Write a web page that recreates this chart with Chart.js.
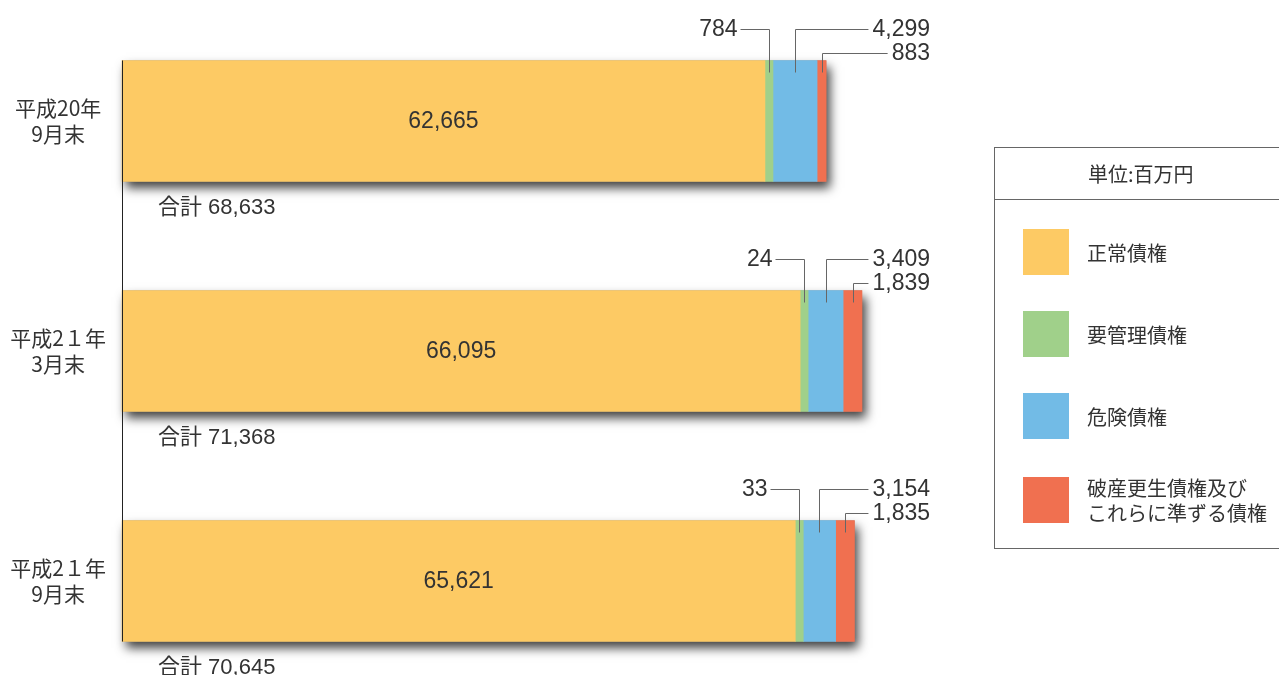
<!DOCTYPE html>
<html>
<head>
<meta charset="utf-8">
<script src="https://cdn.jsdelivr.net/npm/chart.js@4"></script>
<style>
  body { margin: 0; background: #fff; }
  #wrap { position: relative; width: 1279px; height: 675px; overflow: hidden; }
  #legendBox {
    position: absolute; left: 994px; top: 147px; width: 310px; height: 402px;
    border: 1px solid #666; box-sizing: border-box;
    font-family: 'Noto Sans CJK JP', sans-serif; color: #333;
  }
  #legendBox .title { height: 51px; line-height: 52px; border-bottom: 1px solid #666; font-size: 20px; padding-left: 93px; }
  #legendBox .item { position: absolute; left: 28px; display: flex; align-items: center; }
  #legendBox .sw { width: 46px; height: 46px; margin-right: 18px; flex: none; }
  #legendBox .txt { font-size: 20px; line-height: 25px; white-space: pre; }
</style>
</head>
<body>
<div id="wrap">
  <canvas id="barGraph" width="1279" height="675"></canvas>
  <div id="legendBox"><div class="title"></div></div>
</div>
<script>
const periods = [['平成20年', '9月末'], ['平成2１年', '3月末'], ['平成2１年', '9月末']];
const normal = [62665, 66095, 65621];
const special = [784, 24, 33];
const doubtful = [4299, 3409, 3154];
const bankrupt = [883, 1839, 1835];
const totals = [68633, 71368, 70645];
const seriesNames = ['正常債権', '要管理債権', '危険債権', '破産更生債権及び\nこれらに準ずる債権'];
const colors = ['#fdca64', '#a0d08a', '#72bbe6', '#f07050'];
const unitLabel = '単位:百万円';

const numFont = "23px 'Liberation Sans', Arial, sans-serif";
const fmt = v => v.toLocaleString('en-US');

// soft shadow behind each whole bar
const shadowPlugin = {
  id: 'shadow',
  beforeDatasetsDraw(chart) {
    const ctx = chart.ctx;
    const first = chart.getDatasetMeta(0).data;
    const last = chart.getDatasetMeta(3).data;
    first.forEach((el, i) => {
      const top = el.y - el.height / 2;
      ctx.save();
      ctx.shadowColor = 'rgba(0,0,0,0.75)';
      ctx.shadowBlur = 10;
      ctx.shadowOffsetX = 4;
      ctx.shadowOffsetY = 6;
      ctx.fillStyle = '#888';
      ctx.fillRect(el.base, top, last[i].x - el.base, el.height);
      ctx.restore();
    });
  }
};

const labelPlugin = {
  id: 'labels',
  afterDatasetsDraw(chart) {
    const ctx = chart.ctx;
    const m = [0, 1, 2, 3].map(d => chart.getDatasetMeta(d).data);
    const labelRight = 930;
    ctx.save();
    // axis line on the left, over the bars' left edges
    const a = m[0][0], b = m[0][m[0].length - 1];
    ctx.strokeStyle = '#222';
    ctx.lineWidth = 1;
    ctx.beginPath();
    ctx.moveTo(chart.chartArea.left + 0.5, a.y - a.height / 2);
    ctx.lineTo(chart.chartArea.left + 0.5, b.y + b.height / 2);
    ctx.stroke();

    ctx.fillStyle = '#333';
    ctx.strokeStyle = '#666';
    ctx.textBaseline = 'middle';
    m[0].forEach((el, i) => {
      const top = el.y - el.height / 2;
      const bottom = el.y + el.height / 2;
      ctx.font = numFont;
      ctx.textAlign = 'center';
      ctx.fillText(fmt(normal[i]), (el.base + el.x) / 2, el.y + 1);
      ctx.font = "22px 'Liberation Sans', 'Noto Sans CJK JP', sans-serif";
      ctx.textAlign = 'left';
      ctx.fillText('合計 ' + fmt(totals[i]), el.base + 36, bottom + 26);
      ctx.font = numFont;
      const mid = d => Math.round((m[d][i].base + m[d][i].x) / 2) + 0.5;
      const drop = top + 12;
      // small category: label on the left
      const gx = mid(1), gy = Math.round(top - 32) + 0.5;
      ctx.textAlign = 'right';
      ctx.fillText(fmt(special[i]), gx - 32, gy);
      ctx.beginPath();
      ctx.moveTo(gx - 29, gy); ctx.lineTo(gx, gy); ctx.lineTo(gx, drop);
      ctx.stroke();
      // the other two: labels on the right
      [[2, doubtful, top - 32], [3, bankrupt, top - 8]].forEach(([d, arr, y]) => {
        const x = mid(d), yy = Math.round(y) + 0.5;
        const txt = fmt(arr[i]);
        const w = ctx.measureText(txt).width;
        ctx.beginPath();
        ctx.moveTo(x, drop); ctx.lineTo(x, yy); ctx.lineTo(labelRight - w - 4, yy);
        ctx.stroke();
        ctx.fillText(txt, labelRight, yy);
      });
    });
    ctx.restore();
  }
};

const seriesData = [normal, special, doubtful, bankrupt];

new Chart(document.getElementById('barGraph'), {
  type: 'bar',
  data: {
    labels: periods,
    datasets: seriesData.map((d, k) => ({
      label: seriesNames[k],
      data: d,
      backgroundColor: colors[k],
      borderWidth: 0,
      barThickness: 121,
      minBarLength: k === 1 ? 8 : 0,
      clip: false
    }))
  },
  options: {
    indexAxis: 'y',
    responsive: false,
    animation: false,
    layout: { padding: { left: 0, right: 131, top: 121, bottom: 94 } },
    plugins: { legend: { display: false }, tooltip: { enabled: false } },
    scales: {
      x: { stacked: true, min: 0, max: 100000, display: false },
      y: {
        stacked: true,
        offset: false,
        grid: { display: false },
        border: { display: false },
        afterFit: s => { s.width = 122; },
        ticks: {
          crossAlign: 'center',
          padding: 8,
          color: '#333',
          font: { family: "'Noto Sans CJK JP', sans-serif", size: 21, lineHeight: 1.25 }
        }
      }
    }
  },
  plugins: [shadowPlugin, labelPlugin]
});

const box = document.getElementById('legendBox');
box.querySelector('.title').textContent = unitLabel;
seriesNames.forEach((name, k) => {
  const item = document.createElement('div');
  item.className = 'item';
  item.style.top = (81 + k * 82) + 'px';
  item.innerHTML = '<div class="sw"></div><div class="txt"></div>';
  item.querySelector('.sw').style.background = colors[k];
  item.querySelector('.txt').textContent = name;
  box.appendChild(item);
});
</script>
</body>
</html>
